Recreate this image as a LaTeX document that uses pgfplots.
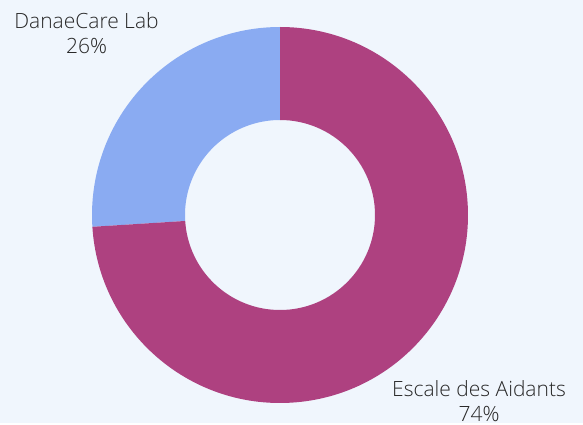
\documentclass[border=0pt]{standalone}
\usepackage{pgfplots}
\pgfplotsset{compat=1.18}
\usetikzlibrary{calc}
\usepackage{fontspec}
\setmainfont{Open Sans}[UprightFont={* Light}]
\definecolor{bgc}{RGB}{240,246,253}
\definecolor{bluec}{RGB}{138,171,242}
\definecolor{magc}{RGB}{174,65,128}
\definecolor{txt}{RGB}{40,40,40}
\begin{document}
\begin{tikzpicture}
\def\valA{26}% DanaeCare Lab
\def\valB{74}% Escale des Aidants
\begin{axis}[scale only axis, width=583bp, height=423bp,
  xmin=0, xmax=583, ymin=0, ymax=423, hide axis, clip=false]
\fill[bgc] (axis cs:0,0) rectangle (axis cs:583,423);
\pgfmathsetmacro{\angA}{90+360*\valA/(\valA+\valB)}
\coordinate (C) at (axis cs:280,208);
\fill[bluec] ($(C)+(90:188bp)$) arc[start angle=90, end angle=\angA, radius=188bp]
  -- ($(C)+(\angA:95bp)$) arc[start angle=\angA, end angle=90, radius=95bp] -- cycle;
\fill[magc] ($(C)+(\angA:188bp)$) arc[start angle=\angA, end angle=450, radius=188bp]
  -- ($(C)+(450:95bp)$) arc[start angle=450, end angle=\angA, radius=95bp] -- cycle;
\node[align=center, text=txt, font=\fontsize{21bp}{25bp}\selectfont] at (axis cs:86.5,390) {DanaeCare Lab\\26\%};
\node[align=center, text=txt, font=\fontsize{21bp}{25bp}\selectfont] at (axis cs:479,22) {Escale des Aidants\\74\%};
\end{axis}
\end{tikzpicture}
\end{document}
